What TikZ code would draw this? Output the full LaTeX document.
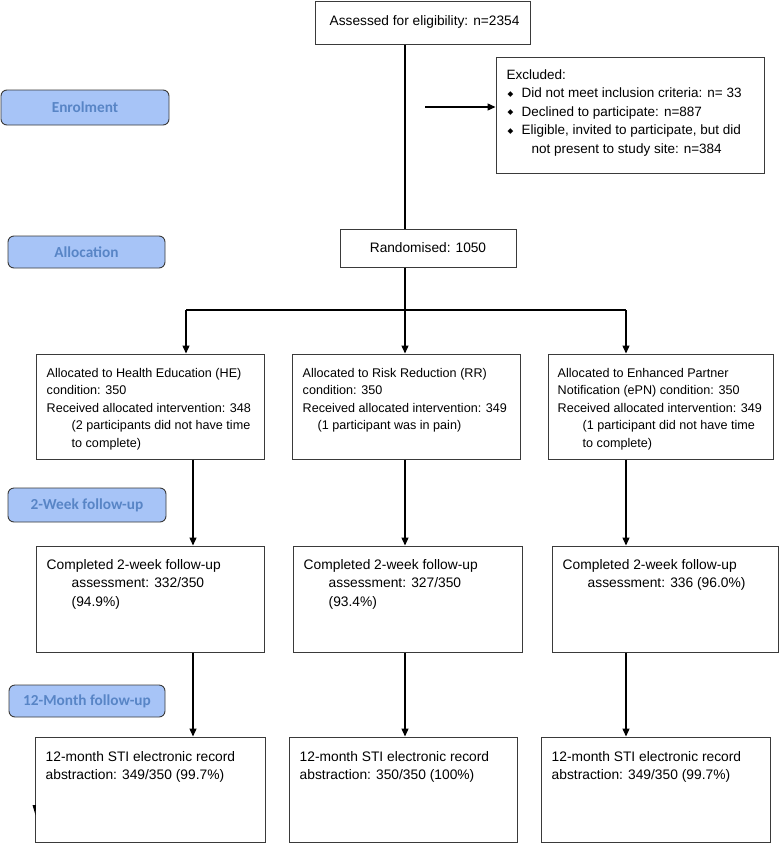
\documentclass[tikz,border=0pt]{standalone}
\usepackage{fontspec}
\setmainfont{Liberation Sans}
\newfontfamily\lblfont{Carlito}
\newfontfamily\symfont{DejaVu Sans}
\usetikzlibrary{arrows.meta,fit}
\definecolor{lblfill}{HTML}{A7C4F7}
\definecolor{lbltext}{HTML}{5885C6}
\definecolor{boxline}{HTML}{3A3A3A}
\newcommand{\bul}{\makebox[15pt][l]{\hspace{1pt}\raisebox{1.2pt}{\symfont\fontsize{7.5}{7.5}\selectfont ◆}}}
\newcommand{\alloctxt}{\fontsize{12.6}{17.5}\selectfont\raggedright}
\newcommand{\comptxt}{\fontsize{13.8}{18.5}\selectfont\raggedright}
\newcommand{\excltxt}{\fontsize{13.5}{18.5}\selectfont\raggedright}
\newcommand{\ind}{\hspace*{25pt}}
\tikzset{
  box/.style={draw=boxline, line width=1pt, inner sep=0pt, rectangle},
  stage/.style={draw=boxline, line width=0.9pt, rounded corners=6pt, fill=lblfill, inner sep=0pt},
  stagetxt/.style={text=lbltext, font=\lblfont\bfseries\fontsize{15.3}{18}\selectfont, inner sep=0pt},
  txt/.style={anchor=base west, inner sep=0pt, font=\fontsize{13.7}{18.5}\selectfont},
  conn/.style={line width=1.3pt, black},
  arr/.style={conn, -{Triangle[length=8pt,width=7pt]}},
}
\begin{document}
\begin{tikzpicture}[x=1pt,y=-1pt]
\useasboundingbox (0,0) rectangle (781,844);
\fill[white] (0,0) rectangle (781,844);

% top
\node[box, fit={(315,1)(530,44)}] (assess) {};
\node[txt] (assesst) at ([shift={(15,24.5)}]assess.north west) {Assessed for eligibility: n=2354};

\node[box, fit={(496,57)(764,173)}] (excl) {};
\node[txt] (exclt) at ([shift={(11,22.5)}]excl.north west) {\parbox[t]{255pt}{\excltxt Excluded:\\ \bul Did not meet inclusion criteria: n= 33\\ \bul Declined to participate: n=887\\ \bul Eligible, invited to participate, but did\\ \ind not present to study site: n=384}};

\node[box, fit={(340,229)(516,267)}] (rand) {};
\node[txt, anchor=center] (randt) at (rand.center) {Randomised: 1050};

% stage labels
\node[stage, fit={(1,90)(169,125)}] (enrol) {};
\node[stagetxt] (enrolt) at (enrol.center) {Enrolment};
\node[stage, fit={(8,236)(165,268)}] (alloc) {};
\node[stagetxt] (alloct) at (alloc.center) {Allocation};
\node[stage, fit={(8,488)(166,522)}] (twowk) {};
\node[stagetxt] (twowkt) at (twowk.center) {2-Week follow-up};
\node[stage, fit={(9,685)(165,717)}] (twelve) {};
\node[stagetxt] (twelvet) at (twelve.center) {12-Month follow-up};

% allocation boxes
\node[box, fit={(36,354)(264,459)}] (he) {};
\node[txt] (het) at ([shift={(11,23.5)}]he.north west) {\parbox[t]{222pt}{\alloctxt Allocated to Health Education (HE)\\ condition: 350\\ Received allocated intervention: 348\\ \ind(2 participants did not have time\\ \ind to complete)}};
\node[box, fit={(292,354)(520,459)}] (rr) {};
\node[txt] (rrt) at ([shift={(11,23.5)}]rr.north west) {\parbox[t]{222pt}{\alloctxt Allocated to Risk Reduction (RR)\\ condition: 350\\ Received allocated intervention: 349\\ \hspace*{15pt}(1 participant was in pain)}};
\node[box, fit={(548,354)(773,459)}] (epn) {};
\node[txt] (epnt) at ([shift={(10,23.5)}]epn.north west) {\parbox[t]{222pt}{\alloctxt Allocated to Enhanced Partner\\ Notification (ePN) condition: 350\\ Received allocated intervention: 349\\ \ind(1 participant did not have time\\ \ind to complete)}};

% 2-week boxes
\node[box, fit={(36,546)(264,652)}] (hec) {};
\node[txt] (hect) at ([shift={(11,23.5)}]hec.north west) {\parbox[t]{222pt}{\comptxt Completed 2-week follow-up\\ \ind assessment: 332/350\\ \ind(94.9\%)}};
\node[box, fit={(293,546)(522,652)}] (rrc) {};
\node[txt] (rrct) at ([shift={(11,23.5)}]rrc.north west) {\parbox[t]{222pt}{\comptxt Completed 2-week follow-up\\ \ind assessment: 327/350\\ \ind(93.4\%)}};
\node[box, fit={(552,546)(778,652)}] (epnc) {};
\node[txt] (epnct) at ([shift={(11,23.5)}]epnc.north west) {\parbox[t]{222pt}{\comptxt Completed 2-week follow-up\\ \ind assessment: 336 (96.0\%)}};

% 12-month boxes
\node[box, fit={(35,737)(265,842)}] (hef) {};
\node[txt] (heft) at ([shift={(11,24.5)}]hef.north west) {\parbox[t]{222pt}{\comptxt 12-month STI electronic record\\ abstraction: 349/350 (99.7\%)}};
\node[box, fit={(289,737)(517,842)}] (rrf) {};
\node[txt] (rrft) at ([shift={(11,24.5)}]rrf.north west) {\parbox[t]{222pt}{\comptxt 12-month STI electronic record\\ abstraction: 350/350 (100\%)}};
\node[box, fit={(541,737)(770,842)}] (epnf) {};
\node[txt] (epnft) at ([shift={(11,24.5)}]epnf.north west) {\parbox[t]{222pt}{\comptxt 12-month STI electronic record\\ abstraction: 349/350 (99.7\%)}};

% connectors
\coordinate (split) at (405,310);
\coordinate (exfrom) at (425,107);
\coordinate (b1) at (186,310);
\coordinate (b3) at (626,310);
\coordinate (k1) at (193,0);
\coordinate (k2) at (405,0);
\coordinate (k3) at (626,0);
\draw[conn] (assess.south -| split) -- (rand.north -| split);
\draw[arr] (exfrom) -- (exfrom -| excl.west);
\draw[conn] (rand.south -| split) -- (split);
\draw[conn] (b1) -- (b3);
\draw[arr] (b1) -- (b1 |- he.north);
\draw[arr] (split) -- (split |- rr.north);
\draw[arr] (b3) -- (b3 |- epn.north);
\draw[arr] (he.south -| k1) -- (hec.north -| k1);
\draw[arr] (rr.south -| k2) -- (rrc.north -| k2);
\draw[arr] (epn.south -| k3) -- (epnc.north -| k3);
\draw[arr] (hec.south -| k1) -- (hef.north -| k1);
\draw[arr] (rrc.south -| k2) -- (rrf.north -| k2);
\draw[arr] (epnc.south -| k3) -- (epnf.north -| k3);

% stray arrow tip at lower left
\fill (32.5,805) -- (36,805) -- (35.5,815) -- cycle;
\end{tikzpicture}
\end{document}
